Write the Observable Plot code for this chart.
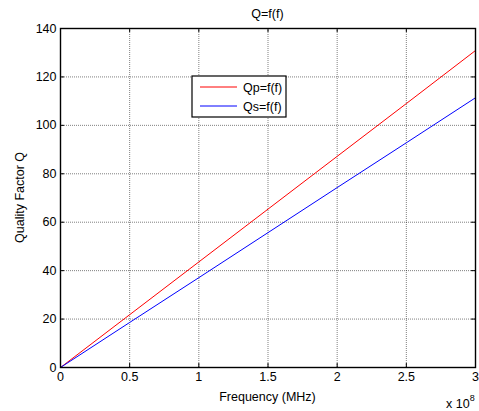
<!DOCTYPE html>
<html>
<head>
<meta charset="utf-8">
<script src="https://cdn.jsdelivr.net/npm/d3@7"></script>
<script src="https://cdn.jsdelivr.net/npm/@observablehq/plot@0.6"></script>
<style>
  html, body { margin: 0; padding: 0; background: #fff; }
  #chart { width: 479px; height: 411px; }
  svg { font-family: "Liberation Sans", Arial, sans-serif; }
</style>
</head>
<body>
<div id="chart"></div>
<script>
// Frequency in units of 1e8 Hz
const freq = [0, 0.5, 1, 1.5, 2, 2.5, 3];
// Parallel and series quality factors
const qParallel = [0, 21.8, 43.6, 65.4, 87.2, 109.0, 130.9];
const qSeries = [0, 18.6, 37.1, 55.7, 74.3, 92.8, 111.4];

const xTicks = [0, 0.5, 1, 1.5, 2, 2.5, 3];
const yTicks = [0, 20, 40, 60, 80, 100, 120, 140];

const seriesNames = ["Qp=f(f)", "Qs=f(f)"];
const seriesColors = ["#ff0000", "#0000ff"];

const rows = [];
freq.forEach((f, i) => {
  rows.push({f, q: qParallel[i], s: seriesNames[0]});
  rows.push({f, q: qSeries[i], s: seriesNames[1]});
});

const W = 479, H = 411;
const mL = 60, mR = 4, mT = 28, mB = 44;
const plotW = W - mL - mR, plotH = H - mT - mB;
const tickLen = 4;
const FS = 12.5;
const grid = {stroke: "#000", strokeOpacity: 0.5, strokeDasharray: "1,1", strokeWidth: 1};

const chart = Plot.plot({
  width: W,
  height: H,
  marginLeft: mL,
  marginRight: mR,
  marginTop: mT,
  marginBottom: mB,
  style: {fontFamily: "Liberation Sans, Arial, sans-serif", fontSize: FS + "px", color: "#000", background: "#fff"},
  x: {domain: [0, 3]},
  y: {domain: [0, 140]},
  color: {domain: seriesNames, range: seriesColors},
  marks: [
    // dotted grid
    Plot.ruleX(xTicks.slice(1, -1), {x: d => d, ...grid}),
    Plot.ruleY(yTicks.slice(1, -1), {y: d => d, ...grid}),
    // inward ticks on all four sides
    Plot.ruleX(xTicks, {x: d => d, insetTop: plotH - tickLen, stroke: "#000"}),
    Plot.ruleX(xTicks, {x: d => d, insetBottom: plotH - tickLen, stroke: "#000"}),
    Plot.ruleY(yTicks, {y: d => d, insetRight: plotW - tickLen, stroke: "#000"}),
    Plot.ruleY(yTicks, {y: d => d, insetLeft: plotW - tickLen, stroke: "#000"}),
    // data
    Plot.line(rows, {x: "f", y: "q", z: "s", stroke: "s", strokeWidth: 1}),
    Plot.frame({stroke: "#000", strokeWidth: 1.4}),
    // axes
    Plot.axisX(xTicks, {tickSize: 0, tickPadding: 5, fontSize: FS, label: null, tickFormat: d => String(d)}),
    Plot.axisY(yTicks, {tickSize: 0, tickPadding: 4, fontSize: FS, label: null, tickFormat: d => String(d)})
  ]
});

const svg = d3.select(chart);
const addText = (x, y, str, anchor = "middle") =>
  svg.append("text")
    .attr("x", x).attr("y", y)
    .attr("text-anchor", anchor).attr("font-size", FS).attr("fill", "#000")
    .text(str);

// title
addText(mL + plotW / 2, 18, "Q=f(f)");

// axis labels
addText(mL + plotW / 2, 401, "Frequency (MHz)");

svg.append("text")
  .attr("transform", `translate(24,${mT + plotH / 2}) rotate(-90)`)
  .attr("text-anchor", "middle").attr("font-size", FS).attr("fill", "#000")
  .text("Quality Factor Q");

// exponent note for the x axis
const expo = svg.append("text")
  .attr("x", 446).attr("y", 408).attr("text-anchor", "start")
  .attr("font-size", FS).attr("fill", "#000");
expo.append("tspan").text("x 10");
expo.append("tspan").attr("dy", -7).attr("font-size", 9).text("8");

// legend
const lg = svg.append("g").attr("transform", "translate(192,76)");
lg.append("rect").attr("width", 94).attr("height", 41)
  .attr("fill", "#fff").attr("stroke", "#000").attr("stroke-width", 1.2);
seriesNames.forEach((name, i) => {
  const y = 11 + i * 19;
  lg.append("line").attr("x1", 8).attr("x2", 45).attr("y1", y).attr("y2", y)
    .attr("stroke", seriesColors[i]).attr("stroke-width", 1);
  lg.append("text").attr("x", 51).attr("y", y + 4.5).attr("text-anchor", "start")
    .attr("font-size", FS).attr("fill", "#000").text(name);
});

document.getElementById("chart").appendChild(chart);
</script>
</body>
</html>
